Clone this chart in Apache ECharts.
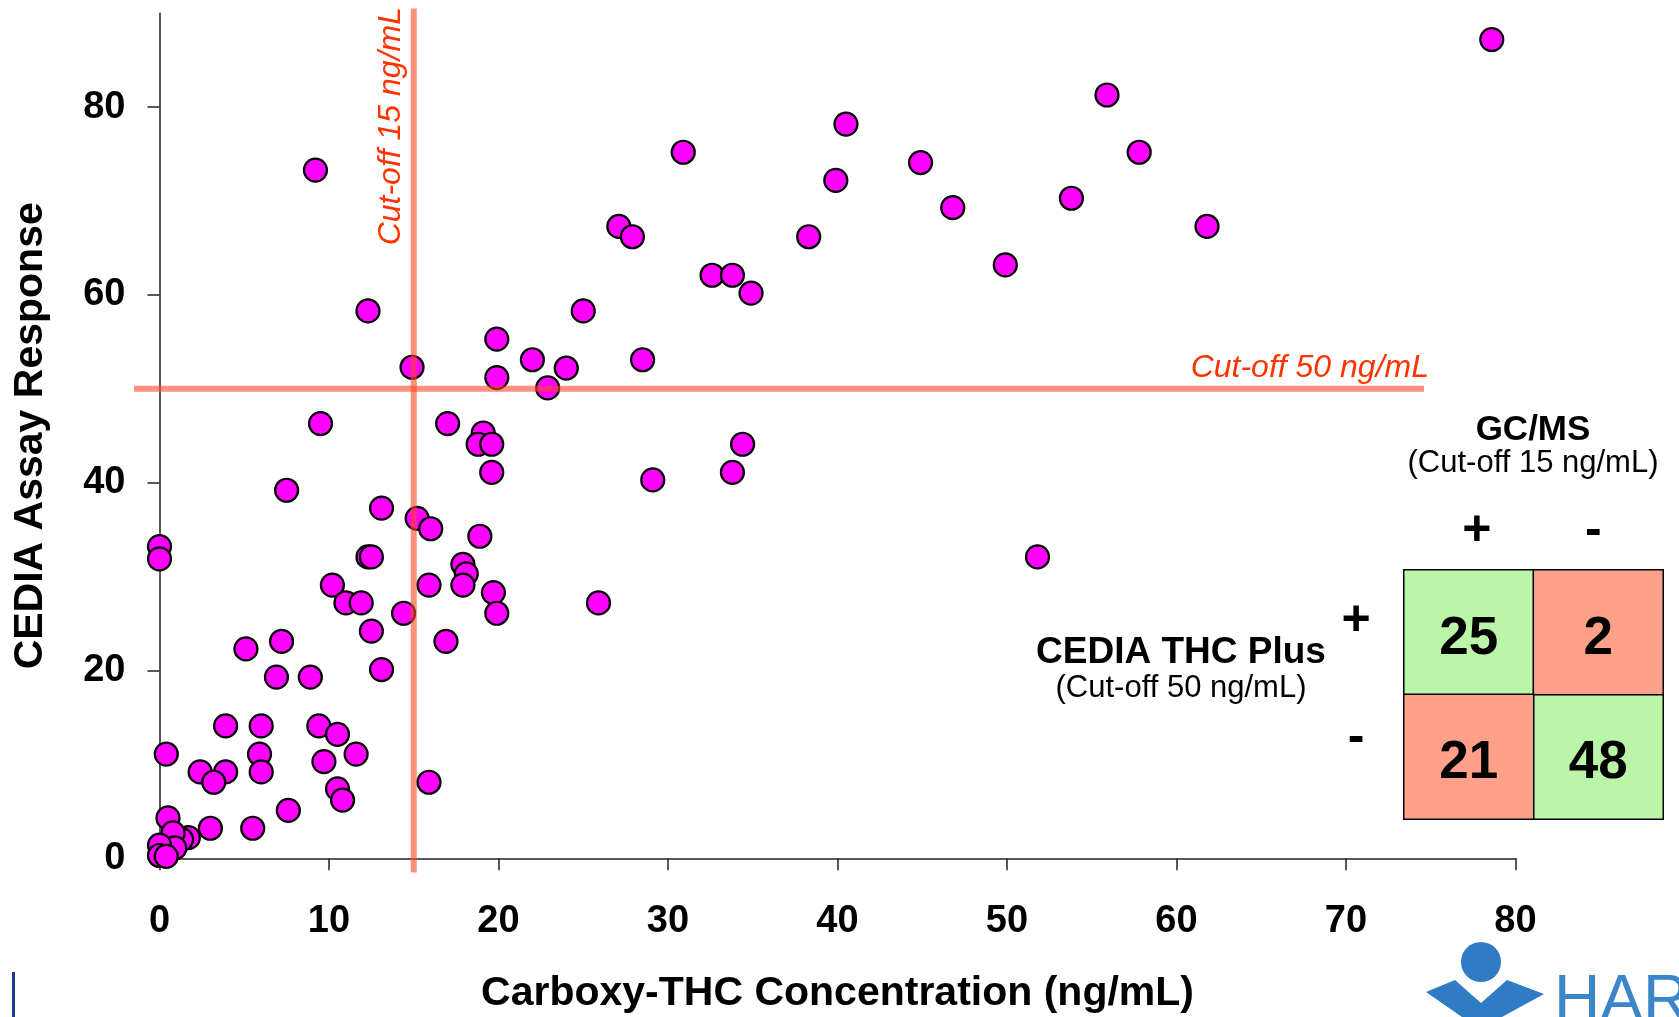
<!DOCTYPE html>
<html>
<head>
<meta charset="utf-8">
<title>CEDIA THC Plus vs GC/MS</title>
<script src="https://cdn.jsdelivr.net/npm/echarts@6/dist/echarts.min.js"></script>
<style>
  html, body { margin: 0; padding: 0; background: #fff; }
  #main { width: 1679px; height: 1017px; }
</style>
</head>
<body>
<div id="main"></div>
<script>
  var FONT = 'Arial, "Liberation Sans", Helvetica, sans-serif';

  // GC/MS carboxy-THC (x) vs CEDIA response (y), same order
  var thcConc = [
    78.6, 55.9, 40.5, 57.8, 30.9, 9.2, 44.9, 39.9, 46.8, 53.8,
    27.1, 27.9, 61.8, 38.3, 49.9, 32.6, 33.8, 34.9, 12.3, 25.0,
    19.9, 22.0, 28.5, 24.0, 14.9, 19.9, 22.9,
    9.5, 17.0, 19.1, 18.8, 19.6, 34.4, 19.6, 33.8, 29.1,
    7.5, 13.1, 15.2, 16.0, 18.9, 0, 0, 12.3, 12.5, 51.8, 17.9, 18.1,
    10.2, 15.9, 17.9, 19.7, 11.0, 11.9, 25.9, 14.4, 19.9, 12.5, 7.2, 16.9, 5.1, 6.9, 8.9, 13.1,
    3.9, 6.0, 9.4, 10.5, 0.4, 5.9, 11.6, 9.7, 2.4, 3.9, 6.0, 3.2, 15.9, 10.5, 10.8, 7.6, 0.5, 3.0, 5.5,
    1.7, 1.3, 0.8, 0.9, 0, 0, 0.4
  ];
  var cediaResp = [
    87.2, 81.3, 78.2, 75.2, 75.2, 73.3, 74.1, 72.2, 69.3, 70.3,
    67.3, 66.2, 67.3, 66.2, 63.2, 62.1, 62.1, 60.2, 58.3, 58.3,
    55.3, 53.1, 53.1, 52.2, 52.3, 51.2, 50.1,
    46.3, 46.3, 45.3, 44.1, 44.1, 44.1, 41.1, 41.1, 40.3,
    39.2, 37.3, 36.2, 35.1, 34.3, 33.2, 31.9, 32.1, 32.1, 32.1, 31.3, 30.3,
    29.1, 29.1, 29.1, 28.3, 27.2, 27.2, 27.2, 26.1, 26.1, 24.2, 23.1, 23.1, 22.3, 19.3, 19.3, 20.1,
    14.1, 14.1, 14.1, 13.2, 11.1, 11.1, 11.1, 10.3, 9.2, 9.2, 9.2, 8.1, 8.1, 7.4, 6.2, 5.1, 4.3, 3.2, 3.2,
    2.2, 2.0, 2.7, 1.1, 1.4, 0.3, 0.2
  ];

  var xTicks = [0, 10, 20, 30, 40, 50, 60, 70, 80];
  var yTicks = [0, 20, 40, 60, 80];

  // cut-off lines: [x1, y1, x2, y2]
  var cutoffGcms = 15;
  var cutoffCedia = 50;
  var cutLines = [
    [cutoffGcms, -1.5, cutoffGcms, 90.5],
    [-1.5, cutoffCedia, 74.6, cutoffCedia]
  ];

  // 2x2 agreement table
  var colHeads = ['+', '-'];
  var rowHeads = ['-', '+'];          // bottom to top
  var agreeCells = [[0, 1, 25], [1, 0, 48]];
  var disagreeCells = [[1, 1, 2], [0, 0, 21]];

  var points = thcConc.map(function (x, i) { return [x, cediaResp[i]]; });

  var chart = echarts.init(document.getElementById('main'));

  var signStyle = { fontSize: 50, fontWeight: 'bold', color: '#000', fontFamily: FONT };
  var cellLabel = {
    show: true, formatter: function (p) { return p.value[2]; }, offset: [0, 7],
    fontSize: 53, fontWeight: 'bold', color: '#000', fontFamily: FONT
  };

  var option = {
    backgroundColor: '#fff',
    animation: false,
    grid: [
      { left: 159.5, right: 163.5, top: 13.3, bottom: 158.7, outerBoundsMode: 'none' },
      { left: 1404, top: 570, width: 259, height: 249, outerBoundsMode: 'none' }
    ],
    xAxis: [{
      gridIndex: 0,
      type: 'value', min: 0, max: 80, interval: 10,
      axisLine: { show: true, onZero: false, lineStyle: { color: '#222', width: 1.5 } },
      axisTick: { show: true, length: 12, customValues: xTicks, lineStyle: { color: '#222', width: 1.5 } },
      splitLine: { show: false },
      axisLabel: { customValues: xTicks, fontSize: 38, fontWeight: 'bold', color: '#000', margin: 44, fontFamily: FONT },
      name: 'Carboxy-THC Concentration (ng/mL)',
      nameLocation: 'middle', nameGap: 115,
      nameTextStyle: { fontSize: 41, fontWeight: 'bold', color: '#000', fontFamily: FONT }
    }, {
      gridIndex: 1,
      type: 'category', data: colHeads, position: 'top',
      axisLine: { show: false }, axisTick: { show: false }, splitLine: { show: false },
      axisLabel: {
        margin: 14,
        formatter: function (v) { return v === '+' ? '{p|+}' : '{m|-}'; },
        rich: {
          p: Object.assign({ padding: [0, 0, 0, 16] }, signStyle),
          m: Object.assign({ padding: [0, 10, 0, 0] }, signStyle)
        }
      }
    }],
    yAxis: [{
      gridIndex: 0,
      type: 'value', min: 0, max: 90, interval: 10,
      axisLine: { show: true, onZero: false, lineStyle: { color: '#222', width: 1.5 } },
      axisTick: { show: true, length: 12, customValues: yTicks, lineStyle: { color: '#222', width: 1.5 } },
      splitLine: { show: false },
      axisLabel: { customValues: yTicks, fontSize: 38, fontWeight: 'bold', color: '#000', margin: 34, fontFamily: FONT },
      name: 'CEDIA Assay Response',
      nameLocation: 'middle', nameGap: 108, nameRotate: 90,
      nameTextStyle: { fontSize: 41, fontWeight: 'bold', color: '#000', fontFamily: FONT }
    }, {
      gridIndex: 1,
      type: 'category', data: rowHeads,
      axisLine: { show: false }, axisTick: { show: false }, splitLine: { show: false },
      axisLabel: {
        margin: 48, align: 'center',
        formatter: function (v) { return v === '+' ? '{p|+}' : '{m|-}'; },
        rich: {
          p: Object.assign({ padding: [0, 0, 22, 0] }, signStyle),
          m: Object.assign({ padding: [0, 0, 38, 0] }, signStyle)
        }
      }
    }],
    series: [
      {
        type: 'scatter', xAxisIndex: 0, yAxisIndex: 0,
        data: points, symbol: 'circle', symbolSize: 23, clip: false, z: 2,
        itemStyle: { color: '#FF00FF', borderColor: '#000', borderWidth: 2.2, opacity: 1 }
      },
      {
        type: 'custom', xAxisIndex: 0, yAxisIndex: 0, data: cutLines,
        clip: false, silent: true, z: 3,
        renderItem: function (params, api) {
          var p1 = api.coord([api.value(0), api.value(1)]);
          var p2 = api.coord([api.value(2), api.value(3)]);
          return {
            type: 'line',
            shape: { x1: p1[0], y1: p1[1], x2: p2[0], y2: p2[1] },
            style: { stroke: 'rgba(255,70,40,0.6)', lineWidth: 6 }
          };
        }
      },
      {
        type: 'heatmap', xAxisIndex: 1, yAxisIndex: 1, data: agreeCells,
        itemStyle: { color: '#BAF5A8', borderColor: '#000', borderWidth: 1.5 },
        label: cellLabel, emphasis: { disabled: true }
      },
      {
        type: 'heatmap', xAxisIndex: 1, yAxisIndex: 1, data: disagreeCells,
        itemStyle: { color: '#FFA088', borderColor: '#000', borderWidth: 1.5 },
        label: cellLabel, emphasis: { disabled: true }
      }
    ]
  };
  chart.setOption(option);

  var vTop = chart.convertToPixel({ gridIndex: 0 }, [cutLines[0][2], cutLines[0][3]]);
  var hEnd = chart.convertToPixel({ gridIndex: 0 }, [cutLines[1][2], cutLines[1][3]]);
  var cutText = { fill: '#FF3300', fontSize: 32, fontStyle: 'italic', fontFamily: FONT };

  chart.setOption({
    graphic: [
      { type: 'text', x: vTop[0] - 23, y: vTop[1] - 1.6, rotation: Math.PI / 2, silent: true,
        style: Object.assign({ text: 'Cut-off 15 ng/mL', align: 'right', verticalAlign: 'middle' }, cutText) },
      { type: 'text', x: hEnd[0] + 5, y: hEnd[1] - 21, silent: true,
        style: Object.assign({ text: 'Cut-off 50 ng/mL', align: 'right', verticalAlign: 'middle' }, cutText) },
      { type: 'text', x: 1533, y: 430, silent: true,
        style: { text: 'GC/MS', fontSize: 35, fontWeight: 'bold', fill: '#000', fontFamily: FONT, align: 'center', verticalAlign: 'middle' } },
      { type: 'text', x: 1533, y: 463, silent: true,
        style: { text: '(Cut-off 15 ng/mL)', fontSize: 31, fill: '#000', fontFamily: FONT, align: 'center', verticalAlign: 'middle' } },
      { type: 'text', x: 1181, y: 653, silent: true,
        style: { text: 'CEDIA THC Plus', fontSize: 37, fontWeight: 'bold', fill: '#000', fontFamily: FONT, align: 'center', verticalAlign: 'middle' } },
      { type: 'text', x: 1181, y: 688, silent: true,
        style: { text: '(Cut-off 50 ng/mL)', fontSize: 31, fill: '#000', fontFamily: FONT, align: 'center', verticalAlign: 'middle' } },
      // slide footer bits
      { type: 'rect', shape: { x: 12, y: 972, width: 3, height: 45 }, style: { fill: '#1F3A8A' }, silent: true },
      { type: 'circle', shape: { cx: 1481, cy: 962, r: 20 }, style: { fill: '#2F7BC4' }, silent: true },
      { type: 'polygon', shape: { points: [[1426, 992], [1455, 980], [1481, 1003], [1507, 980], [1544, 994], [1502, 1017], [1462, 1017]] },
        style: { fill: '#2F7BC4' }, silent: true },
      { type: 'text', x: 1554, y: 970, silent: true,
        style: { text: 'HAR', fontSize: 64, fill: '#3A86C8', fontFamily: FONT, align: 'left', verticalAlign: 'top' } }
    ]
  });
</script>
</body>
</html>
